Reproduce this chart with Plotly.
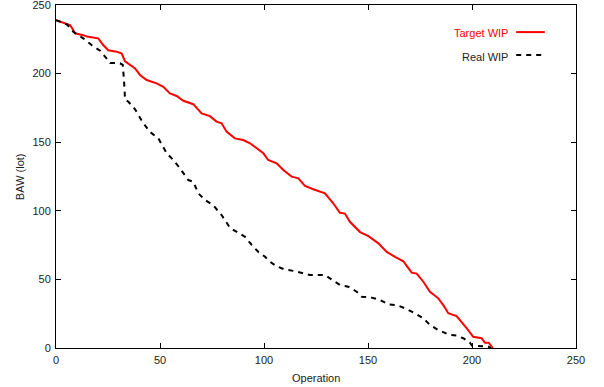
import plotly.graph_objects as go

# Target WIP (red solid)
target_x = [0, 6.7, 7.5, 9.1, 13.1, 14.8, 20.3, 22.7, 25.1, 29.2, 31.6, 33.2, 38, 40.4, 43.6, 48.4,
            51.6, 54.8, 58, 61.2, 66, 70, 74, 77.2, 79.6, 82, 86, 90, 93.3, 97.3, 99.7, 102, 106.1,
            109.3, 113.3, 116.5, 119.7, 123.7, 129.3, 133.3, 136.5, 138.9, 141.3, 146.2, 150.2, 155,
            159, 163, 167, 168.6, 171, 173.4, 176.6, 179.8, 183.8, 186.2, 188.6, 192.6, 195.8, 197.4,
            200.6, 204.6, 206.2, 208, 210]
target_y = [239, 235.4, 233.7, 229.4, 228, 227, 225.7, 220.8, 217, 216, 214.6, 208.9, 203.8, 199,
            195.3, 192.9, 190.4, 185.6, 183.7, 180.2, 177.7, 171, 169, 165, 163.8, 157.7, 152.8,
            151.6, 149.2, 144.8, 141.9, 137, 134.6, 129.7, 124.9, 123.7, 118.1, 115.7, 112.8, 105.5,
            98.6, 98, 92, 84.5, 81.5, 76.3, 70, 66.5, 63.2, 59.8, 54.9, 54.2, 48.3, 41, 36.2, 31.3,
            25.3, 23.3, 16.8, 14.4, 8.2, 7.1, 3.9, 3.9, 0]

# Real WIP (black dashed)
real_x = [0, 5.1, 8.3, 13.1, 17.1, 21.2, 23.6, 26, 30.8, 32.1, 32.7, 33.2, 34.8, 38, 41.5, 45, 49.2,
          53.2, 56.4, 59.6, 63.6, 66, 68.4, 71.6, 75.6, 79.6, 83.7, 86.9, 90.9, 94.1, 97.3, 100.5,
          102.9, 106.1, 110.1, 114.1, 118.5, 122.1, 129.3, 133.3, 136.5, 140.5, 144.6, 147, 151.8,
          155.8, 159.8, 163.8, 167.8, 172.6, 176.6, 179.8, 183.8, 189.4, 192.6, 195.8, 199, 200,
          202.2, 207.8, 209]
real_y = [239, 236, 230.5, 225.7, 220.8, 216.7, 212.3, 207.8, 207.5, 206.3, 195, 181, 179.5, 174,
          165, 157.7, 152.8, 142, 137, 131, 122.4, 121.2, 112.8, 107.9, 104, 96.9, 87.5, 84.8, 81,
          75.1, 70, 66.5, 62.9, 59.5, 57.2, 56.2, 54.4, 53.2, 53.2, 49.1, 45.9, 44.7, 41, 37.4, 36.7,
          35, 31.8, 31.3, 28.9, 25.3, 21.6, 16.8, 13.1, 9.5, 9, 7.1, 3.9, 1.8, 1.5, 1, 0]

tick_vals = [0, 50, 100, 150, 200, 250]
tick_text = ["0", "50", "100", "150", "200", "250"]

FONT = "Liberation Sans, Arial, sans-serif"
TXT = "#222"

fig = go.Figure()
fig.add_trace(go.Scatter(x=target_x, y=target_y, mode="lines", name="Target WIP",
                         line=dict(color="#ff0000", width=2)))
fig.add_trace(go.Scatter(x=real_x, y=real_y, mode="lines", name="Real WIP",
                         line=dict(color="#000000", width=2, dash="5px,5px")))

axis_common = dict(showgrid=False, zeroline=False, showline=True, linecolor="black", linewidth=1,
                   mirror="ticks", ticks="inside", ticklen=5, tickcolor="black", tickwidth=1,
                   automargin=False, ticklabeloverflow="allow",
                   tickfont=dict(family=FONT, size=11, color=TXT))

fig.update_layout(
    width=604, height=387,
    margin=dict(l=56, r=28, t=5, b=39),
    paper_bgcolor="white", plot_bgcolor="white",
    showlegend=False,
    xaxis=dict(range=[0, 250], tickvals=tick_vals, ticktext=tick_text, ticklabelstandoff=2,
               **axis_common),
    yaxis=dict(range=[0, 250], tickvals=tick_vals, ticktext=tick_text, ticklabelstandoff=2,
               **axis_common),
)

# axis titles
fig.add_annotation(x=0.5, y=-0.0875, xref="paper", yref="paper", xanchor="center", yanchor="middle",
                   text="Operation", showarrow=False, font=dict(family=FONT, size=11, color=TXT))
fig.add_annotation(x=-0.069, y=0.4985, xref="paper", yref="paper", xanchor="center", yanchor="middle",
                   text="BAW (lot)", textangle=-90, showarrow=False,
                   font=dict(family=FONT, size=11, color=TXT))

# gnuplot-style key: text then sample line
fig.add_annotation(x=0.873, y=0.9175, xref="paper", yref="paper", xanchor="right", yanchor="middle",
                   text="Target WIP", showarrow=False, font=dict(family=FONT, size=11, color="#ff0000"))
fig.add_annotation(x=0.873, y=0.849, xref="paper", yref="paper", xanchor="right", yanchor="middle",
                   text="Real WIP", showarrow=False, font=dict(family=FONT, size=11, color=TXT))
fig.add_shape(type="line", xref="paper", yref="paper", x0=0.885, x1=0.94, y0=0.921, y1=0.921,
              line=dict(color="#ff0000", width=2))
fig.add_shape(type="line", xref="paper", yref="paper", x0=0.885, x1=0.94, y0=0.854, y1=0.854,
              line=dict(color="black", width=2, dash="5px,5px"))

fig.write_html("out.html", config={"displayModeBar": False, "staticPlot": True},
               post_script="document.body.style.margin='0';document.body.style.overflow='hidden';")
